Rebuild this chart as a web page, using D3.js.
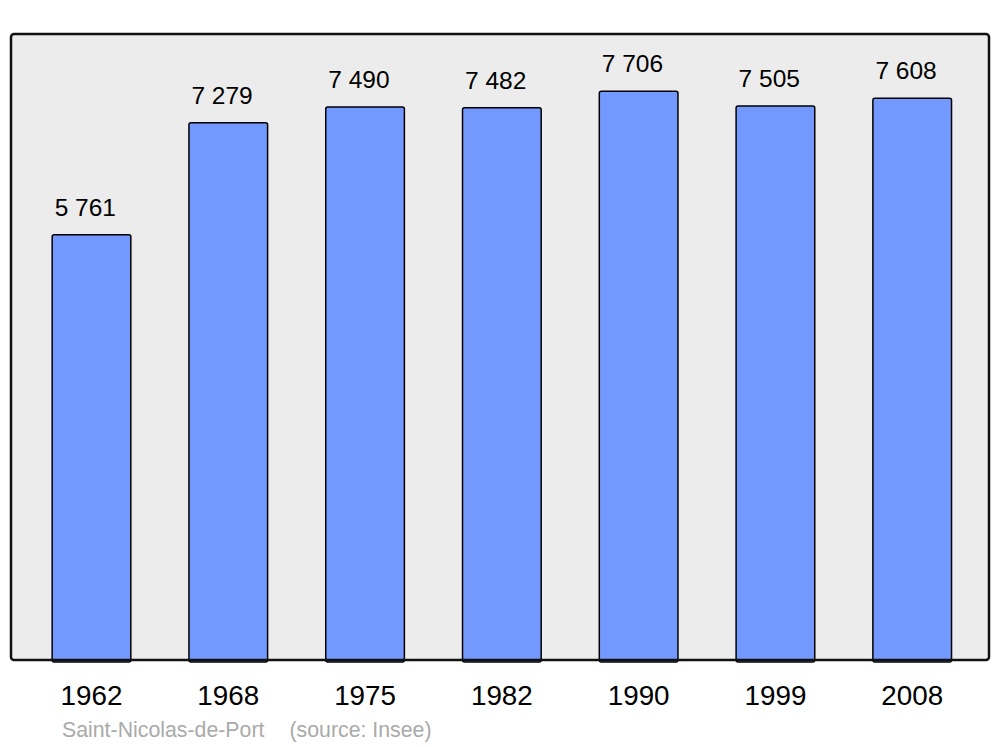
<!DOCTYPE html>
<html>
<head>
<meta charset="utf-8">
<script src="https://cdn.jsdelivr.net/npm/d3@7"></script>
<style>
  html, body { margin: 0; padding: 0; background: #ffffff; }
  svg { display: block; font-family: "Liberation Sans", Arial, sans-serif; }
</style>
</head>
<body>
<script>
const years = ["1962", "1968", "1975", "1982", "1990", "1999", "2008"];
const population = [5761, 7279, 7490, 7482, 7706, 7505, 7608];
const valueLabels = ["5 761", "7 279", "7 490", "7 482", "7 706", "7 505", "7 608"];
const footerLabels = ["Saint-Nicolas-de-Port", "(source: Insee)"];

const W = 1000, H = 747;
const panel = { x0: 11, y0: 34, x1: 989, y1: 660 };

const svg = d3.select("body").append("svg").attr("width", W).attr("height", H);

const x = d3.scaleBand()
  .domain(years)
  .range([23.1, 980.6])
  .paddingInner(0.425)
  .paddingOuter(0.2125);

const y = d3.scaleLinear().domain([0, 8480]).range([panel.y1, panel.y0]);

svg.append("rect")
  .attr("x", panel.x0).attr("y", panel.y0)
  .attr("width", panel.x1 - panel.x0).attr("height", panel.y1 - panel.y0)
  .attr("rx", 3).attr("ry", 3)
  .attr("fill", "#ececec").attr("stroke", "none");

const data = years.map((yr, i) => ({ year: yr, value: population[i], label: valueLabels[i] }));

svg.append("g").selectAll("rect").data(data).join("rect")
  .attr("x", d => x(d.year))
  .attr("y", d => y(d.value))
  .attr("width", x.bandwidth())
  .attr("height", d => y(0) - y(d.value) + 2)
  .attr("rx", 2).attr("ry", 2)
  .attr("fill", "#7399ff")
  .attr("stroke", "#000").attr("stroke-width", 1.5);

// panel border on top
svg.append("rect")
  .attr("x", panel.x0).attr("y", panel.y0)
  .attr("width", panel.x1 - panel.x0).attr("height", panel.y1 - panel.y0)
  .attr("rx", 3).attr("ry", 3)
  .attr("fill", "none").attr("stroke", "#111").attr("stroke-width", 2.5);

svg.append("g").selectAll("text").data(data).join("text")
  .attr("x", d => x(d.year) + 2.5)
  .attr("y", d => y(d.value) - 19)
  .attr("font-size", 24.5)
  .attr("fill", "#000")
  .text(d => d.label);

const xAxis = d3.axisBottom(x).tickSize(0).tickPadding(0);
const gx = svg.append("g").attr("transform", `translate(0,${panel.y1})`).call(xAxis);
gx.select(".domain").remove();
gx.selectAll("text")
  .attr("font-size", 27.8)
  .attr("font-family", "\"Liberation Sans\", Arial, sans-serif")
  .attr("fill", "#000")
  .attr("dy", null)
  .attr("y", 45);

svg.append("text").attr("x", 62).attr("y", 737)
  .attr("font-size", 21.3).attr("fill", "#aaaaaa").text(footerLabels[0]);
svg.append("text").attr("x", 289.5).attr("y", 737)
  .attr("font-size", 21.3).attr("fill", "#aaaaaa").text(footerLabels[1]);
</script>
</body>
</html>
